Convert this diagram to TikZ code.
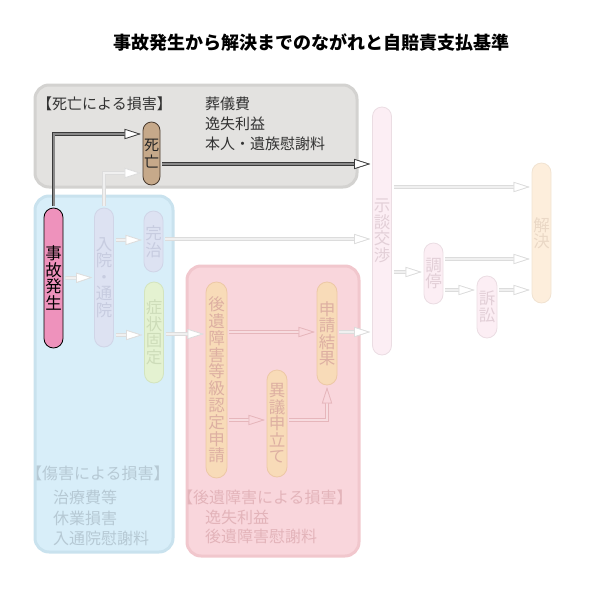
\documentclass[tikz,border=0pt]{standalone}
\usepackage{fontspec}
\setmainfont{Noto Sans CJK JP}
\usetikzlibrary{arrows.meta}
\definecolor{deathfill}{HTML}{E3E2E0}
\definecolor{deathedge}{HTML}{D3D2D0}
\definecolor{injfill}{HTML}{D8EEF9}
\definecolor{injedge}{HTML}{C9E2EE}
\definecolor{injtext}{HTML}{B6C9D4}
\definecolor{aftfill}{HTML}{F9D6DC}
\definecolor{aftedge}{HTML}{F1C7CD}
\definecolor{afttext}{HTML}{E3B4BA}
\definecolor{accfill}{HTML}{EE92BC}
\definecolor{dthfill}{HTML}{C6A98A}
\definecolor{dthedge}{HTML}{4A3C30}
\definecolor{lavfill}{HTML}{DDE2F2}
\definecolor{lavedge}{HTML}{D0D5E7}
\definecolor{lavtext}{HTML}{C7CCE0}
\definecolor{grnfill}{HTML}{E4F2D1}
\definecolor{grnedge}{HTML}{D3E4BE}
\definecolor{grntext}{HTML}{CDDCB9}
\definecolor{orgfill}{HTML}{F8DBB8}
\definecolor{orgedge}{HTML}{EDC8A6}
\definecolor{orgtext}{HTML}{DDAFA2}
\definecolor{pnkfill}{HTML}{FCEEF4}
\definecolor{pnkedge}{HTML}{EBDDE3}
\definecolor{pnktext}{HTML}{E2CFD7}
\definecolor{resfill}{HTML}{FDEEDC}
\definecolor{resedge}{HTML}{F1E3D2}
\definecolor{restext}{HTML}{EAD8C6}
\definecolor{darkline}{HTML}{3A3A3A}
\definecolor{darkin}{HTML}{8A8A8A}
\definecolor{fadeline}{HTML}{DCDCDC}
\definecolor{fadein}{HTML}{F0F0F0}
\definecolor{pfadeline}{HTML}{E6B6BB}
\definecolor{pfadein}{HTML}{F7DCE0}
\tikzset{
  pill/.style={draw, line width=0.8pt, minimum width=19pt, inner sep=0pt,
    align=center, font=\fontsize{16.5}{16.5}\selectfont, rounded corners=9.5pt},
  region/.style={line width=3pt, rounded corners=14pt},
  harrow/.style n args={3}{draw=#1, line width=3.4pt, shorten >=2pt, shorten <=2pt,
    -{Triangle[length=16pt 0,width=10pt 0,line width=0.7pt,color=#1,fill=#3]},
    postaction={draw=#2, line width=2pt,
      -{Triangle[length=16pt 0,width=10pt 0,line width=0.7pt,color=#1,fill=#3]}}},
  darrow/.style={harrow={darkline}{darkin}{white}},
  farrow/.style={harrow={fadeline}{fadein}{white}},
  parrow/.style={harrow={pfadeline}{pfadein}{aftfill}},
  lbl/.style={anchor=west, inner sep=0pt, font=\fontsize{15}{15}\selectfont},
  lblb/.style={anchor=west, inner sep=0pt, font=\fontsize{16}{16}\selectfont},
}
\begin{document}
\begin{tikzpicture}[x=1pt,y=-1pt]
\useasboundingbox (0,0) rectangle (600,600);
% title
\node[font=\fontsize{18}{18}\selectfont\bfseries] (title) at (311,43) {事故発生から解決までのながれと自賠責支払基準};
% regions
\path[region, fill=deathfill, draw=deathedge] (35,85) rectangle (357,187);
\path[region, fill=injfill, draw=injedge] (35,196) rectangle (173,552);
\path[region, fill=aftfill, draw=aftedge] (187,266) rectangle (359,556);
% region texts
\node[lbl, text=black!80] (dlab) at (37,104) {【死亡による損害】};
\node[lbl, text=black!80] (d1) at (205,104) {葬儀費};
\node[lbl, text=black!80] (d2) at (205,124) {逸失利益};
\node[lbl, text=black!80] (d3) at (205,144) {本人・遺族慰謝料};
\node[lblb, text=injtext] (ilab) at (26,473) {【傷害による損害】};
\node[lblb, text=injtext] (i1) at (53,497) {治療費等};
\node[lblb, text=injtext] (i2) at (53,518) {休業損害};
\node[lblb, text=injtext] (i3) at (53,538) {入通院慰謝料};
\node[lblb, text=afttext] (alab) at (177,497) {【後遺障害による損害】};
\node[lblb, text=afttext] (a1) at (205,517) {逸失利益};
\node[lblb, text=afttext] (a2) at (205,536) {後遺障害慰謝料};
% pills
\node[pill, fill=accfill, draw=black, minimum height=140pt] (acc) at (53.5,278) {事\\故\\発\\生};
\node[pill, fill=dthfill, draw=dthedge, text=black!85, minimum width=17pt, rounded corners=8.5pt, minimum height=63pt, font=\fontsize{15}{17.5}\selectfont] (death) at (151.5,153.5) {死\\亡};
\node[pill, fill=lavfill, draw=lavedge, text=lavtext, minimum height=139pt] (hosp) at (104,277.5) {入\\院\\・\\通\\院};
\node[pill, fill=lavfill, draw=lavedge, text=lavtext, minimum height=61pt] (cure) at (153.5,241.5) {完\\治};
\node[pill, fill=grnfill, draw=grnedge, text=grntext, minimum height=101pt] (sym) at (154,332.5) {症\\状\\固\\定};
\node[pill, fill=orgfill, draw=orgedge, text=orgtext, minimum width=21pt, rounded corners=10.5pt, minimum height=196pt, font=\fontsize{16.5}{16.8}\selectfont] (after) at (216.5,380) {後\\遺\\障\\害\\等\\級\\認\\定\\申\\請};
\node[pill, fill=orgfill, draw=orgedge, text=orgtext, minimum width=20pt, rounded corners=10pt, minimum height=107pt] (obj) at (277,423.5) {異\\議\\申\\立\\て};
\node[pill, fill=orgfill, draw=orgedge, text=orgtext, minimum width=20pt, rounded corners=10pt, minimum height=103pt] (result) at (327,333.5) {申\\請\\結\\果};
\node[pill, fill=pnkfill, draw=pnkedge, text=pnktext, minimum height=248pt] (nego) at (382,231) {示\\談\\交\\渉};
\node[pill, fill=pnkfill, draw=pnkedge, text=pnktext, minimum height=61pt] (med) at (433.5,273.5) {調\\停};
\node[pill, fill=pnkfill, draw=pnkedge, text=pnktext, minimum width=20pt, rounded corners=10pt, minimum height=62pt] (suit) at (487,307) {訴\\訟};
\node[pill, fill=resfill, draw=resedge, text=restext, minimum height=140pt] (resolve) at (541.5,233) {解\\決};
% connectors
\draw[farrow] (hosp.north) |- (death.west |- 0,173);
\draw[darrow] (acc.north) |- (death.west |- 0,134);
\draw[darrow] (death.east |- 0,164) -- (nego.west |- 0,164);
\draw[farrow] (acc.east) -- (hosp.west);
\draw[farrow] (hosp.east |- 0,240) -- (cure.west |- 0,240);
\draw[farrow] (hosp.east |- 0,335) -- (sym.west |- 0,335);
\draw[farrow] (cure.east |- 0,239) -- (nego.west |- 0,239);
\draw[farrow] (sym.east |- 0,334) -- (after.west |- 0,334);
\draw[parrow] (after.east |- 0,332) -- (result.west |- 0,332);
\draw[parrow] (after.east |- 0,420) -- (obj.west |- 0,420);
\draw[parrow] (obj.east |- 0,420) -| (result.south);
\draw[farrow] (result.east |- 0,332) -- (nego.west |- 0,332);
\draw[farrow] (nego.east |- 0,187) -- (resolve.west |- 0,187);
\draw[farrow] (nego.east |- 0,272) -- (med.west |- 0,272);
\draw[farrow] (med.east |- 0,259) -- (resolve.west |- 0,259);
\draw[farrow] (med.east |- 0,290) -- (suit.west |- 0,290);
\draw[farrow] (suit.east |- 0,290) -- (resolve.west |- 0,290);
\end{tikzpicture}
\end{document}
